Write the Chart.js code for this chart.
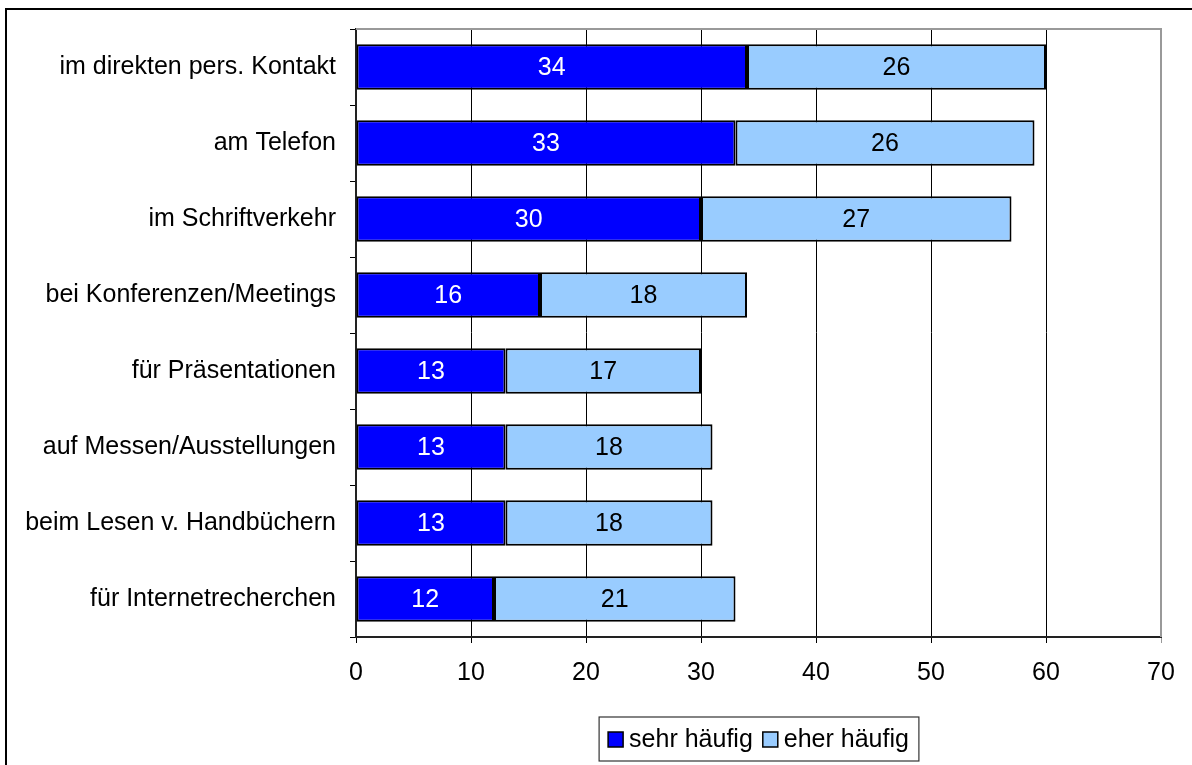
<!DOCTYPE html>
<html>
<head>
<meta charset="utf-8">
<script src="https://cdn.jsdelivr.net/npm/chart.js@4"></script>
<style>
  html, body { margin: 0; padding: 0; background: #fff; }
  #wrap { position: relative; width: 1192px; height: 765px; }
</style>
</head>
<body>
<div id="wrap"><canvas id="chart"></canvas></div>
<script>
const categories = [
  "im direkten pers. Kontakt",
  "am Telefon",
  "im Schriftverkehr",
  "bei Konferenzen/Meetings",
  "für Präsentationen",
  "auf Messen/Ausstellungen",
  "beim Lesen v. Handbüchern",
  "für Internetrecherchen"
];
const sehrHaeufig = [34, 33, 30, 16, 13, 13, 13, 12];
const eherHaeufig = [26, 26, 27, 18, 17, 18, 18, 21];
const xMax = 70;
const xStep = 10;

const FONT = "'Liberation Sans', Arial, sans-serif";
Chart.defaults.font.family = FONT;
Chart.defaults.font.size = 25;
Chart.defaults.color = "#000";

// frame, plot border, legend and value labels
const decor = {
  id: "decor",
  beforeDraw(chart) {
    const c = chart.ctx;
    c.save();
    c.fillStyle = "#fff";
    c.fillRect(0, 0, chart.width, chart.height);
    c.strokeStyle = "#000";
    c.lineWidth = 2;
    c.strokeRect(6, 9, chart.width + 20, chart.height + 20);
    c.restore();
  },
  afterDatasetsDraw(chart) {
    const c = chart.ctx;
    c.save();
    c.font = "25px " + FONT;
    c.textAlign = "center";
    c.textBaseline = "middle";
    chart.data.datasets.forEach((ds, i) => {
      const meta = chart.getDatasetMeta(i);
      c.fillStyle = i === 0 ? "#fff" : "#000";
      meta.data.forEach((bar, j) => {
        const p = bar.getCenterPoint();
        c.fillText(String(ds.data[j]), p.x, p.y + 1);
      });
    });
    c.restore();
  },
  afterDraw(chart) {
    const c = chart.ctx;
    const a = chart.chartArea;
    c.save();
    c.strokeStyle = "#999";
    c.lineWidth = 2;
    c.beginPath();
    c.moveTo(a.left, a.top);
    c.lineTo(a.right, a.top);
    c.lineTo(a.right, a.bottom);
    c.stroke();

    // legend below the axis, boxed like the original
    c.font = "25px " + FONT;
    c.textBaseline = "middle";
    c.textAlign = "left";
    const items = chart.data.datasets.map(ds => ({
      text: ds.label, color: ds.backgroundColor,
      w: 15 + 6 + c.measureText(ds.label).width
    }));
    const gap = 10;
    const total = items.reduce((s, it) => s + it.w, 0) + gap * (items.length - 1);
    const cy = 739;
    let x = (a.left + a.right) / 2 - total / 2;
    c.strokeStyle = "#333";
    c.lineWidth = 1.2;
    c.strokeRect(x - 9, cy - 22, total + 19, 44);
    items.forEach(it => {
      c.fillStyle = it.color;
      c.fillRect(x, cy - 7, 15, 15);
      c.strokeStyle = "#000";
      c.lineWidth = 1.5;
      c.strokeRect(x, cy - 7, 15, 15);
      c.fillStyle = "#000";
      c.fillText(it.text, x + 21, cy + 1);
      x += it.w + gap;
    });
    c.restore();
  }
};

new Chart(document.getElementById("chart"), {
  type: "bar",
  data: {
    labels: categories,
    datasets: [{
      label: "sehr häufig",
      data: sehrHaeufig,
      backgroundColor: "#0000ff",
      borderColor: "#000",
      borderWidth: 2,
      borderSkipped: false,
      barPercentage: 0.6,
      categoryPercentage: 1
    }, {
      label: "eher häufig",
      data: eherHaeufig,
      backgroundColor: "#99ccff",
      borderColor: "#000",
      borderWidth: 2,
      borderSkipped: false,
      barPercentage: 0.6,
      categoryPercentage: 1
    }]
  },
  options: {
    indexAxis: "y",
    responsive: true,
    maintainAspectRatio: false,
    animation: false,
    layout: { padding: { top: 29, right: 31, left: 0, bottom: 49 } },
    scales: {
      x: {
        stacked: true,
        min: 0,
        max: xMax,
        ticks: { stepSize: xStep, padding: 15, font: { size: 25 } },
        grid: {
          color: (ctx) => ctx.tick && ctx.tick.value === xMax ? "#999" : "#000",
          lineWidth: 1,
          tickLength: 6
        },
        border: { color: "#222", width: 2 },
        afterFit(scale) { scale.height = 79; }
      },
      y: {
        stacked: true,
        ticks: { padding: 14, font: { size: 25 } },
        grid: {
          drawOnChartArea: false,
          tickLength: 6,
          color: "#000",
          offset: true
        },
        border: { color: "#222", width: 2 },
        afterFit(scale) { scale.width = 356; }
      }
    },
    plugins: {
      legend: { display: false },
      tooltip: { enabled: false }
    }
  },
  plugins: [decor]
});
</script>
</body>
</html>
